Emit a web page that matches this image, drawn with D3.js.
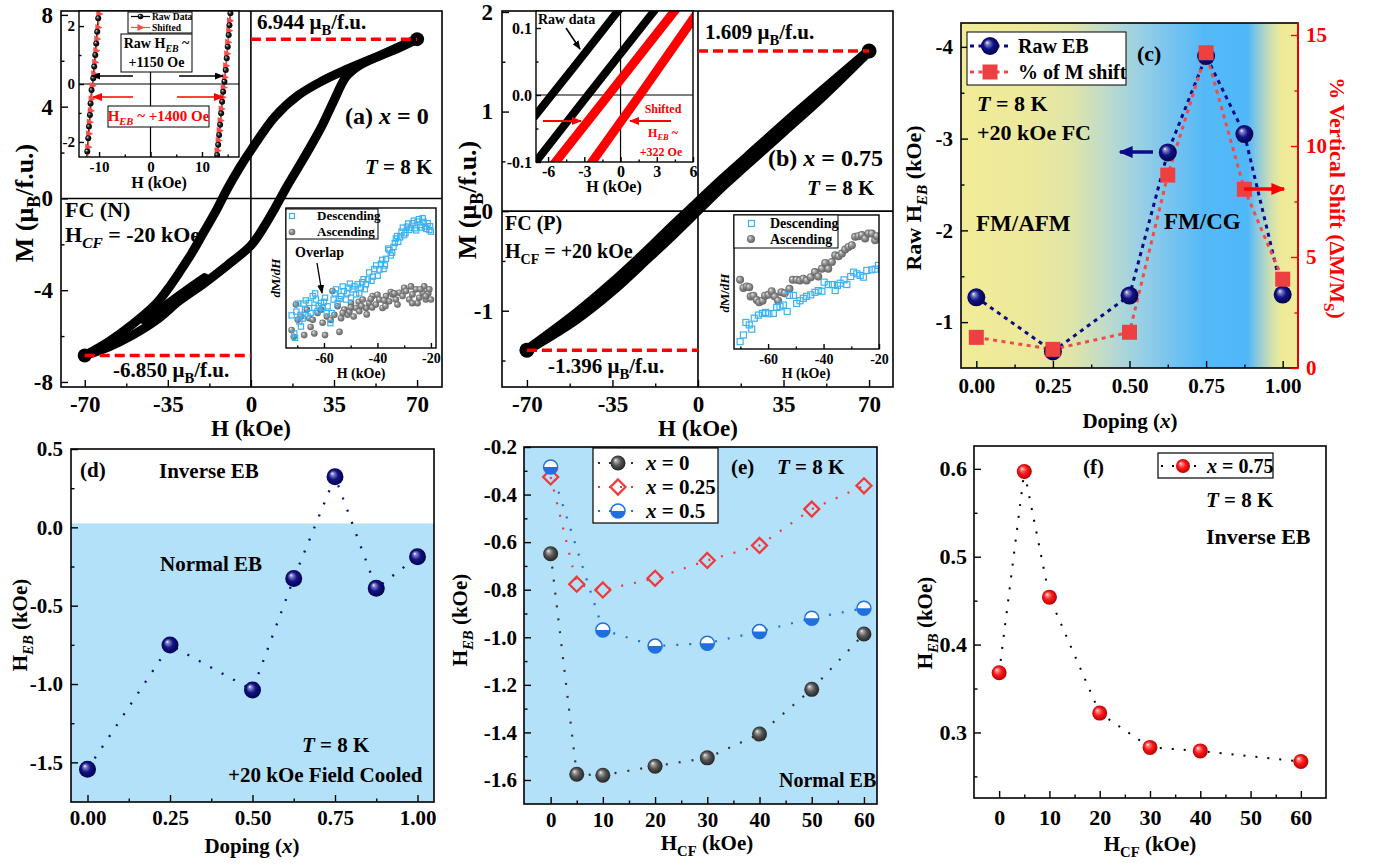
<!DOCTYPE html>
<html>
<head>
<meta charset="utf-8">
<title>Exchange bias panels</title>
<script src="https://cdn.jsdelivr.net/npm/d3@7"></script>
<style>
body { margin: 0; background: #fff; }
svg text { font-family: "Liberation Serif", "Times New Roman", serif; font-weight: bold; }
</style>
</head>
<body>
<script>
(function(){

	//---- (a) x = 0 hysteresis loop, H (kOe) / M (muB per f.u.)
	var aDescH = [70, 60, 50, 40, 30, 20, 10, 0, -5, -10, -15, -20, -25, -30, -35, -40, -50, -60, -70];
	var aDescM = [6.94, 6.45, 6.05, 5.61, 5.12, 4.5, 3.55, 2.1, 1.3, 0.4, -0.6, -1.5, -2.4, -3.2, -3.95, -4.6, -5.5, -6.25, -6.85];
	var aAscH = [-70, -60, -50, -40, -30, -20, -10, 0, 5, 10, 15, 20, 25, 30, 35, 40, 45, 50, 60, 70];
	var aAscM = [-6.85, -6.48, -5.97, -5.32, -4.45, -3.72, -2.92, -2.05, -1.32, -0.45, 0.49, 1.36, 2.24, 3.18, 4.27, 5.29, 5.75, 6.02, 6.5, 6.94];
	var aVirH = [-19.5, -25, -30, -35, -40, -45];
	var aVirM = [-3.45, -3.85, -4.22, -4.6, -4.98, -5.3];
	var aTop = [70, 6.944], aBot = [-70, -6.850];

	//---- (a) upper inset, zoom of the coercive branches
	var aInRawLH = [-9.95, -10.16, -10.36, -10.55, -10.74, -10.94, -11.13, -11.46, -11.65, -11.78, -11.97, -12.1, -12.29, -12.45];
	var aInRawLM = [2.75, 2.27, 1.8, 1.4, 1.0, 0.6, 0.2, -0.21, -0.67, -1.07, -1.47, -1.87, -2.33, -2.75];
	var aInRawRH = [15.75, 15.53, 15.34, 15.2, 15.01, 14.82, 14.62, 14.37, 14.12, 13.92, 13.73, 13.53, 13.34, 13.15, 12.95, 12.85];
	var aInRawRM = [2.75, 2.44, 2.03, 1.69, 1.29, 0.89, 0.48, 0.08, -0.27, -0.61, -1.01, -1.41, -1.76, -2.1, -2.45, -2.75];
	var aInShLH = [-9.85, -9.95, -10.15, -10.35, -10.55, -10.75, -10.95, -11.25, -11.45, -11.6, -11.8, -11.95, -12.1, -12.3];
	var aInShLM = [2.75, 2.42, 1.95, 1.55, 1.15, 0.75, 0.35, -0.06, -0.52, -0.92, -1.32, -1.72, -2.18, -2.75];
	var aInShRH = [15.85, 15.62, 15.45, 15.29, 15.1, 14.9, 14.7, 14.45, 14.22, 14.02, 13.83, 13.63, 13.44, 13.25, 13.05, 12.95];
	var aInShRM = [2.75, 2.59, 2.18, 1.84, 1.44, 1.04, 0.63, 0.23, -0.12, -0.46, -0.86, -1.26, -1.61, -1.95, -2.3, -2.75];

	//---- (a) lower inset, dM/dH (arb. units)
	var aDesH = [-72.1,-71.1,-70.8,-69.8,-68.8,-68.6,-67.6,-67.1,-66.1,-65.5,-64.2,-63.6,-63.0,-62.4,-61.1,-60.5,-59.6,-58.6,-57.6,-57.1,-56.4,-55.5,-54.9,-53.6,-52.6,-51.8,-50.9,-49.9,-49.3,-48.0,-47.4,-46.2,-45.2,-44.3,-43.1,-42.2,-41.2,-39.9,-38.7,-37.7,-36.8,-36.0,-35.0,-34.0,-33.1,-32.2,-31.0,-30.0,-29.0,-28.1,-26.9,-26.0,-25.0,-24.0,-23.1,-22.2,-21.2,-20.6,-20.0,
		-70.3,-69.2,-67.9,-66.8,-65.0,-63.3,-62.0,-60.0,-59.0,-56.0,-54.2,-53.0,-51.3,-50.3,-48.6,-46.8,-45.7,-44.7,-43.6,-41.7,-40.5,-39.2,-38.2,-37.2,-35.5,-34.5,-33.5,-32.6,-31.5,-30.5,-29.5,-28.5,-27.5,-26.4,-25.5,-24.5,-23.5,-22.7,-21.7,-20.3];
	var aDesV = [2.33,1.04,0.73,3.17,2.37,1.53,3.17,2.74,2.25,3.22,3.71,2.86,3.46,2.62,3.22,2.86,3.59,2.98,1.77,2.5,3.46,4.19,3.22,3.71,4.07,3.46,4.31,3.59,4.19,3.83,4.55,4.31,4.92,4.55,5.4,4.8,5.64,5.16,6.01,5.64,6.37,7.1,6.61,7.22,7.82,7.58,8.31,8.06,8.67,8.43,8.91,8.55,9.03,8.79,9.27,8.67,8.91,8.43,8.31,
		2.6,1.9,2.1,3.4,2.5,3.9,3.0,3.3,2.5,3.9,3.5,4.4,3.9,4.6,4.4,3.9,4.7,4.2,4.9,5.1,5.9,5.6,6.3,5.9,7.0,6.8,7.5,8.0,7.9,8.6,8.2,8.9,8.6,9.1,8.4,9.2,8.6,9.0,8.5,8.7];
	var aAsH = [-72.1,-71.3,-70.5,-69.8,-68.6,-67.4,-66.4,-65.5,-64.2,-63.6,-62.4,-61.1,-59.6,-58.9,-56.8,-56.1,-54.9,-54.2,-53.6,-52.4,-51.2,-50.5,-49.9,-48.9,-48.0,-47.0,-46.8,-45.5,-44.3,-44.0,-43.1,-42.0,-41.8,-40.6,-40.0,-39.3,-38.1,-37.0,-36.8,-35.6,-35.0,-34.3,-33.1,-32.5,-31.8,-30.6,-30.0,-29.3,-28.1,-27.5,-26.9,-25.6,-25.0,-24.4,-23.1,-22.5,-21.9,-21.0,-20.6,-20.0,
		-27.0,-24.0,-22.0,-33.7,-37.5,-42.5,-46.0,-50.0,-53.0,-57.5,-60.5,-65.0];
	var aAsV = [1.29,0.8,3.1,2.01,2.25,0.92,2.74,2.13,2.01,1.04,2.5,2.74,0.92,2.25,4.07,2.37,2.98,1.15,2.13,2.74,2.37,2.6,3.22,2.25,2.86,3.3,2.62,3.46,2.86,2.4,3.22,2.9,3.71,3.1,3.8,3.46,2.86,3.0,3.71,3.34,4.0,3.83,3.46,3.1,3.95,3.71,4.3,4.07,3.46,4.4,3.83,4.19,3.2,3.59,3.95,4.4,3.46,3.9,4.19,3.46,
		3.2,4.2,3.7,3.9,3.4,3.5,3.0,2.9,2.5,2.0,1.8,1.5];

	//---- (b) x = 0.75 loop
	var bDescH = [70, 50, 35, 20, 10, 0, -10, -20, -35, -50, -70];
	var bDescM = [1.609, 1.19, 0.87, 0.54, 0.32, 0.09, -0.14, -0.38, -0.72, -1.03, -1.396];
	var bAscH = [-70, -50, -35, -20, -10, 0, 10, 20, 35, 50, 70];
	var bAscM = [-1.396, -1.09, -0.8, -0.46, -0.23, 0.01, 0.25, 0.47, 0.8, 1.13, 1.609];
	var bTop = [70, 1.609], bBot = [-70, -1.396];

	//---- (b) upper inset, raw and shifted branches near the origin
	var bRaw1H = [-7.2, -3.5, 0.2], bRaw1M = [-0.034, 0.05, 0.135];
	var bRaw2H = [-7.2, -2.7, 3.2], bRaw2M = [-0.104, 0.0, 0.135];
	var bSh1H = [-5.6, -1.0, 4.8], bSh1M = [-0.105, 0.0, 0.133];
	var bSh2H = [-2.6, 1.6, 6.3], bSh2M = [-0.106, 0.0, 0.121];

	//---- (b) lower inset, dM/dH
	var bDesH = [-70.1,-68.9,-68.0,-66.8,-65.9,-65.0,-63.5,-62.1,-60.9,-59.7,-58.1,-56.9,-55.7,-54.5,-53.1,-52.3,-50.9,-49.7,-48.5,-47.3,-46.1,-44.6,-43.1,-41.9,-40.6,-39.8,-38.3,-36.8,-35.8,-35.0,-34.0,-32.6,-31.6,-30.2,-29.2,-28.0,-26.8,-25.6,-24.4,-22.6,-21.4,-20.2];
	var bDesV = [0.55,1.05,1.98,1.8,1.48,2.3,2.53,2.66,2.73,2.63,2.66,3.1,3.16,3.28,2.8,4.0,4.0,3.4,3.6,3.78,3.93,4.04,4.23,4.36,4.31,4.99,4.81,4.81,4.36,4.74,4.91,5.16,4.81,5.41,5.74,5.61,5.49,5.36,5.86,5.91,5.96,6.24];
	var bAsH = [-70.1,-68.9,-67.7,-66.8,-66.3,-65.3,-64.1,-63.2,-62.0,-61.1,-59.9,-58.7,-57.6,-56.4,-55.2,-54.0,-52.3,-51.1,-49.7,-48.5,-47.3,-46.1,-44.6,-43.1,-41.9,-40.6,-39.4,-38.3,-37.0,-35.8,-34.6,-33.4,-32.2,-31.0,-29.8,-28.6,-27.4,-26.2,-25.0,-23.8,-22.6,-21.4,-20.8];
	var bAsV = [5.16,4.56,4.66,4.61,3.91,3.98,3.66,3.48,3.61,3.98,4.04,4.31,3.91,3.61,4.23,4.16,4.49,5.16,5.16,5.11,5.24,5.11,5.36,5.74,5.41,5.99,6.42,5.99,6.49,6.99,6.92,7.12,7.42,7.62,7.74,8.37,8.42,8.5,8.25,8.62,8.62,8.12,8.42];

	//---- (c) raw EB and vertical shift vs doping
	var cDoping = [0, 0.25, 0.5, 0.625, 0.75, 0.875, 1.0];
	var cRawEB = [-1.27, -0.68, -1.29, -2.85, -3.90, -3.05, -1.30];
	var cShift = [1.38, 0.84, 1.61, 8.69, 14.2, 8.05, 4.0];

	//---- (d) HEB vs doping
	var dDoping = [0, 0.25, 0.5, 0.625, 0.75, 0.875, 1.0];
	var dHeb = [-1.544, -0.751, -1.038, -0.326, 0.323, -0.389, -0.188];

	//---- (e) HEB vs cooling field
	var eHcf = [0, 5, 10, 20, 30, 40, 50, 60];
	var eX0 = [-0.649, -1.576, -1.58, -1.542, -1.507, -1.407, -1.219, -0.986];
	var eX25 = [-0.326, -0.777, -0.801, -0.752, -0.677, -0.614, -0.461, -0.363];
	var eHcf5 = [0, 10, 20, 30, 40, 50, 60];
	var eX5 = [-0.284, -0.969, -1.037, -1.025, -0.976, -0.92, -0.878];

	//---- (f) HEB vs cooling field, x = 0.75
	var fHcf = [0, 5, 10, 20, 30, 40, 60];
	var fHeb = [0.368, 0.597, 0.454, 0.322, 0.283, 0.279, 0.267];

	//---- tick values
	var abXt = [-70, -35, 0, 35, 70], abXm = [-52.5, -17.5, 17.5, 52.5];
	var aYt = [-8, -4, 0, 4, 8], aYm = [-6, -2, 2, 6];
	var bYt = [-1, 0, 1, 2], bYm = [-1.5, -0.5, 0.5, 1.5];
	var aiXt = [-10, 0, 10], aiXm = [-5, 5, 15], aiYt = [-2, 0, 2], aiYm = [-1, 1];
	var biXt = [-6, -3, 0, 3, 6], biXm = [-4.5, -1.5, 1.5, 4.5], biYt = [-0.1, 0, 0.1], biYm = [-0.05, 0.05];
	var dmXt = [-60, -40, -20], dmXm = [-70, -50, -30];
	var dopXt = [0, 0.25, 0.5, 0.75, 1.0], dopXm = [0.125, 0.375, 0.625, 0.875];
	var cYt = [-1, -2, -3, -4], cYm = [-1.5, -2.5, -3.5];
	var cRt = [0, 5, 10, 15], cRm = [2.5, 7.5, 12.5];
	var dYt = [-1.5, -1.0, -0.5, 0.0, 0.5], dYm = [-1.25, -0.75, -0.25, 0.25];
	var hcfXt = [0, 10, 20, 30, 40, 50, 60], hcfXm = [5, 15, 25, 35, 45, 55];
	var eYt = [-1.6, -1.4, -1.2, -1.0, -0.8, -0.6, -0.4, -0.2], eYm = [-1.5, -1.3, -1.1, -0.9, -0.7, -0.5, -0.3];
	var fYt = [0.3, 0.4, 0.5, 0.6], fYm = [0.25, 0.35, 0.45, 0.55];

	var LBLUE = "#b4e1fa", RED = "#ff0000";

	var svg = d3.select("body").append("svg").attr("width", 1375).attr("height", 865);
	var defs = svg.append("defs");

	//sphere shading
	function sphereGrad(id, mid, dark){
		var g = defs.append("radialGradient").attr("id", id)
			.attr("cx", "50%").attr("cy", "50%").attr("r", "55%").attr("fx", "33%").attr("fy", "30%");
		g.append("stop").attr("offset", "0%").attr("stop-color", "#fff");
		g.append("stop").attr("offset", "16%").attr("stop-color", d3.interpolateRgb("#fff", mid)(0.5));
		g.append("stop").attr("offset", "50%").attr("stop-color", mid);
		g.append("stop").attr("offset", "100%").attr("stop-color", dark);
	}
	sphereGrad("gNavy", "#12128a", "#000040");
	sphereGrad("gGray", "#565656", "#1c1c1c");
	sphereGrad("gRed", "#ff1818", "#a80000");
	sphereGrad("gGrayS", "#8c8c8c", "#5a5a5a");
	sphereGrad("gBlack", "#1a1a1a", "#000");

	//background of (c)
	var lg = defs.append("linearGradient").attr("id", "gBgC").attr("x1", 0).attr("x2", 1).attr("y1", 0).attr("y2", 0);
	[[0, "#f2ec98"], [0.2, "#ede99c"], [0.33, "#dfe5a8"], [0.42, "#c2dcc8"], [0.52, "#9ed1e2"], [0.62, "#78c4ef"],
	 [0.72, "#55b9f7"], [0.85, "#4fb8f9"], [0.88, "#8cc9df"], [0.92, "#d0e0b0"], [0.95, "#eeea9a"], [1, "#f1ec98"]]
		.forEach(function(s){ lg.append("stop").attr("offset", s[0]).attr("stop-color", s[1]); });

	function arrowMarker(id, color, w, h){
		defs.append("marker").attr("id", id).attr("viewBox", "0 0 10 10").attr("refX", 9).attr("refY", 5)
			.attr("markerUnits", "userSpaceOnUse").attr("markerWidth", w).attr("markerHeight", h)
			.attr("orient", "auto").attr("preserveAspectRatio", "none")
			.append("path").attr("d", "M0,0L10,5L0,10Z").attr("fill", color);
	}
	arrowMarker("arBlk", "#000", 9, 7);
	arrowMarker("arRed", RED, 10, 8);
	arrowMarker("arNavy", "#0a0a8a", 14, 12);
	arrowMarker("arRedBig", RED, 14, 12);

	function clip(id, x, y){
		defs.append("clipPath").attr("id", id).append("rect")
			.attr("x", x.range()[0]).attr("y", y.range()[1])
			.attr("width", x.range()[1] - x.range()[0]).attr("height", y.range()[0] - y.range()[1]);
		return "url(#" + id + ")";
	}

	function tidy(sel, fs, color){
		sel.select(".domain").remove();
		sel.attr("font-size", fs).attr("color", color || "#000");
		sel.selectAll("line").attr("stroke-width", 1.4);
	}

	//box and inward ticks
	function frame(g, x, y, o){
		var tl = o.tl || 7, fs = o.fs || 20;
		var xl = x.range()[0], xr = x.range()[1], yb = y.range()[0], yt = y.range()[1];
		if (o.xt) g.append("g").attr("transform", "translate(0," + yb + ")")
			.call(d3.axisBottom(x).tickValues(o.xt).tickSize(-tl).tickPadding(o.xpad || 8).tickFormat(o.xfmt || String))
			.call(tidy, fs);
		if (o.xm) g.append("g").attr("transform", "translate(0," + yb + ")")
			.call(d3.axisBottom(x).tickValues(o.xm).tickSize(-tl / 2).tickFormat(""))
			.call(tidy, fs);
		if (o.yt) g.append("g").attr("transform", "translate(" + xl + ",0)")
			.call(d3.axisLeft(y).tickValues(o.yt).tickSize(-tl).tickPadding(o.ypad || 8).tickFormat(o.yfmt || String))
			.call(tidy, fs);
		if (o.ym) g.append("g").attr("transform", "translate(" + xl + ",0)")
			.call(d3.axisLeft(y).tickValues(o.ym).tickSize(-tl / 2).tickFormat(""))
			.call(tidy, fs);
		g.append("rect").attr("x", xl).attr("y", yt).attr("width", xr - xl).attr("height", yb - yt)
			.attr("fill", "none").attr("stroke", "#000").attr("stroke-width", o.bw || 1.6);
	}

	//text with subscripts / italics: parts = ["H", ["EB","sub,i"], " (kOe)"]
	function rich(g, x, y, parts, o){
		o = o || {};
		var fs = o.fs || 20;
		var t = g.append("text").attr("x", x).attr("y", y).attr("font-size", fs)
			.attr("text-anchor", o.anchor || "start").attr("fill", o.fill || "#000");
		if (o.rotate) t.attr("transform", "rotate(" + o.rotate + "," + x + "," + y + ")");
		var shift = 0;
		parts.forEach(function(p){
			var s = typeof p === "string" ? p : p[0];
			var st = typeof p === "string" ? [] : p[1].split(",");
			var isSub = st.indexOf("sub") >= 0, isIt = st.indexOf("i") >= 0;
			var want = isSub ? fs * 0.28 : 0;
			var ts = t.append("tspan").text(s).attr("dy", want - shift);
			shift = want;
			if (isSub) ts.attr("font-size", fs * 0.7);
			if (isIt) ts.attr("font-style", "italic");
		});
		return t;
	}
	function it(s){ return [s, "i"]; }
	function sub(s){ return [s, "sub"]; }
	function subi(s){ return [s, "sub,i"]; }

	function hline(g, x1, x2, y, color, w, dash){
		return g.append("line").attr("x1", x1).attr("x2", x2).attr("y1", y).attr("y2", y)
			.attr("stroke", color).attr("stroke-width", w).attr("stroke-dasharray", dash || null);
	}
	function vline(g, x, y1, y2, color, w){
		return g.append("line").attr("x1", x).attr("x2", x).attr("y1", y1).attr("y2", y2)
			.attr("stroke", color).attr("stroke-width", w);
	}
	function arrow(g, x1, y1, x2, y2, color, w, mk){
		return g.append("line").attr("x1", x1).attr("y1", y1).attr("x2", x2).attr("y2", y2)
			.attr("stroke", color).attr("stroke-width", w).attr("marker-end", "url(#" + mk + ")");
	}

	function spheres(g, pts, x, y, r, grad){
		g.selectAll(null).data(pts).join("circle")
			.attr("cx", function(d){ return x(d[0]); }).attr("cy", function(d){ return y(d[1]); })
			.attr("r", r).attr("fill", "url(#" + grad + ")");
	}

	//========================= (a) =========================
	var ax = d3.scaleLinear().domain([-80, 80.5]).range([61, 442]);
	var ay = d3.scaleLinear().domain([-8.22, 8.17]).range([387, 11]);
	var gA = svg.append("g");
	vline(gA, ax(0), ay.range()[0], ay.range()[1], "#000", 1.6);
	hline(gA, ax.range()[0], ax.range()[1], ay(0), "#000", 1.6);

	var lineA = d3.line().x(function(d){ return ax(d[0]); }).y(function(d){ return ay(d[1]); }).curve(d3.curveCatmullRom);
	var gAd = gA.append("g").attr("clip-path", clip("clA", ax, ay));
	[[aDescH, aDescM], [aAscH, aAscM], [aVirH, aVirM]].forEach(function(s){
		gAd.append("path").datum(d3.zip(s[0], s[1])).attr("d", lineA)
			.attr("fill", "none").attr("stroke", "#000").attr("stroke-width", 9).attr("stroke-linecap", "round");
	});
	gAd.selectAll(null).data([aTop, aBot]).join("circle")
		.attr("cx", function(d){ return ax(d[0]); }).attr("cy", function(d){ return ay(d[1]); }).attr("r", 7);
	hline(gA, ax(0), ax(aTop[0]), ay(aTop[1]), RED, 3.5, "10,5");
	hline(gA, ax(aBot[0]), ax(0), ay(aBot[1]), RED, 3.5, "10,5");

	frame(gA, ax, ay, {xt: abXt, xm: abXm, yt: aYt, ym: aYm, fs: 23, xpad: 9, ypad: 8});

	rich(gA, 257, 29, ["6.944 \u03bc", sub("B"), "/f.u."], {fs: 21});
	rich(gA, 113, 377, ["-6.850 \u03bc", sub("B"), "/f.u."], {fs: 21});
	rich(gA, 345, 124, ["(a)  ", it("x"), " = 0"], {fs: 24});
	rich(gA, 365, 174, [it("T"), " = 8 K"], {fs: 21});
	rich(gA, 65, 217, ["FC (N)"], {fs: 22});
	rich(gA, 65, 242, ["H", subi("CF"), " = -20 kOe"], {fs: 22});
	rich(gA, 33, 203, ["M (\u03bc", sub("B"), "/f.u.)"], {fs: 26, rotate: -90, anchor: "middle"});
	rich(gA, 251, 436, ["H (kOe)"], {fs: 23, anchor: "middle"});

	//---- (a) inset 1
	var aix = d3.scaleLinear().domain([-13.9, 17.2]).range([79, 239]);
	var aiy = d3.scaleLinear().domain([-2.52, 2.52]).range([157, 11]);
	var gAi = svg.append("g");
	gAi.append("rect").attr("x", 79).attr("y", 11).attr("width", 160).attr("height", 146).attr("fill", "#fff");
	vline(gAi, aix(0), aiy.range()[0], aiy.range()[1], "#000", 1.2);
	hline(gAi, aix.range()[0], aix.range()[1], aiy(0), "#000", 1.2);
	var lineAi = d3.line().x(function(d){ return aix(d[0]); }).y(function(d){ return aiy(d[1]); });
	var gAid = gAi.append("g").attr("clip-path", clip("clAi", aix, aiy));
	[[aInRawLH, aInRawLM], [aInRawRH, aInRawRM]].forEach(function(s){
		gAid.append("path").datum(d3.zip(s[0], s[1])).attr("d", lineAi).attr("fill", "none").attr("stroke", "#000").attr("stroke-width", 1.3);
	});
	[[aInShLH, aInShLM], [aInShRH, aInShRM]].forEach(function(s){
		var pts = d3.zip(s[0], s[1]);
		gAid.append("path").datum(pts).attr("d", lineAi).attr("fill", "none").attr("stroke", "#ff4a4a").attr("stroke-width", 1.3);
		gAid.selectAll(null).data(pts).join("path").attr("d", "M-3,-3.6L4.2,0L-3,3.6Z").attr("fill", "#ff4a4a")
			.attr("transform", function(d){ return "translate(" + aix(d[0]) + "," + aiy(d[1]) + ")"; });
	});
	[[aInRawLH, aInRawLM], [aInRawRH, aInRawRM]].forEach(function(s){
		spheres(gAid, d3.zip(s[0], s[1]), aix, aiy, 3, "gBlack");
	});
	frame(gAi, aix, aiy, {xt: aiXt, xm: aiXm, yt: aiYt, ym: aiYm, fs: 15, xpad: 4, ypad: 4, tl: 5, bw: 1.4});
	rich(gAi, 159, 188, ["H (kOe)"], {fs: 16, anchor: "middle"});
	//legend
	gAi.append("rect").attr("x", 128).attr("y", 12).attr("width", 64).attr("height", 21).attr("fill", "#fff").attr("stroke", "#000").attr("stroke-width", 1);
	hline(gAi, 131, 150, 16.5, "#000", 1.2);
	gAi.append("circle").attr("cx", 140.5).attr("cy", 16.5).attr("r", 2.8).attr("fill", "url(#gBlack)");
	hline(gAi, 131, 150, 27.5, "#ff4a4a", 1.2);
	gAi.append("path").attr("d", "M-3,-3.6L4.2,0L-3,3.6Z").attr("fill", "#ff4a4a").attr("transform", "translate(140.5,27.5)");
	rich(gAi, 152, 19.5, ["Raw Data"], {fs: 9.5});
	rich(gAi, 152, 30.5, ["Shifted"], {fs: 9.5});
	//raw HEB box
	gAi.append("rect").attr("x", 121).attr("y", 34).attr("width", 71).attr("height", 38).attr("fill", "#fff").attr("stroke", "#000").attr("stroke-width", 1);
	rich(gAi, 156.5, 48, ["Raw H", subi("EB"), " ~"], {fs: 14, anchor: "middle"});
	rich(gAi, 156.5, 67, ["+1150 Oe"], {fs: 14, anchor: "middle"});
	arrow(gAi, 133, 76, 92, 76, "#000", 1.5, "arBlk");
	arrow(gAi, 179, 76, 223, 76, "#000", 1.5, "arBlk");
	arrow(gAi, 133, 97, 93, 97, RED, 1.5, "arRed");
	arrow(gAi, 177, 97, 223, 97, RED, 1.5, "arRed");
	gAi.append("rect").attr("x", 108).attr("y", 106).attr("width", 101).attr("height", 21).attr("fill", "#fff").attr("stroke", "#000").attr("stroke-width", 1);
	rich(gAi, 158.5, 121, ["H", subi("EB"), " ~ +1400 Oe"], {fs: 15, anchor: "middle", fill: RED});

	//---- (a) inset 2
	var ajx = d3.scaleLinear().domain([-74.2, -18.1]).range([286, 436]);
	var ajy = d3.scaleLinear().domain([0, 10]).range([348, 208]);
	var gAj = svg.append("g");
	gAj.append("rect").attr("x", 286).attr("y", 208).attr("width", 150).attr("height", 140).attr("fill", "#fff");
	var gAjd = gAj.append("g").attr("clip-path", clip("clAj", ajx, ajy));
	spheres(gAjd, d3.zip(aAsH, aAsV), ajx, ajy, 3.3, "gGrayS");
	gAjd.selectAll(null).data(d3.zip(aDesH, aDesV)).join("rect")
		.attr("x", function(d){ return ajx(d[0]) - 2.6; }).attr("y", function(d){ return ajy(d[1]) - 2.6; })
		.attr("width", 5.2).attr("height", 5.2).attr("fill", "none").attr("stroke", "#3cb2f2").attr("stroke-width", 1.2);
	frame(gAj, ajx, ajy, {xt: dmXt, xm: dmXm, fs: 14, xpad: 5, tl: 5, bw: 1.4});
	rich(gAj, 361, 378, ["H (kOe)"], {fs: 14, anchor: "middle"});
	rich(gAj, 280, 278, [it("d"), "M/", it("dH")], {fs: 13, rotate: -90, anchor: "middle"});
	gAj.append("rect").attr("x", 286).attr("y", 209).attr("width", 92).attr("height", 30).attr("fill", "#fff").attr("stroke", "#000").attr("stroke-width", 1);
	gAj.append("rect").attr("x", 289.5).attr("y", 213.5).attr("width", 5).attr("height", 5).attr("fill", "none").attr("stroke", "#3cb2f2").attr("stroke-width", 1.2);
	gAj.append("circle").attr("cx", 292).attr("cy", 232).attr("r", 3.3).attr("fill", "url(#gGrayS)");
	rich(gAj, 317, 220, ["Descending"], {fs: 13});
	rich(gAj, 317, 236, ["Ascending"], {fs: 13});
	rich(gAj, 295, 257, ["Overlap"], {fs: 14});
	arrow(gAj, 317, 263, 322, 293, "#000", 1.3, "arBlk");

	//========================= (b) =========================
	var bx = d3.scaleLinear().domain([-80.2, 79.8]).range([502, 893]);
	var by = d3.scaleLinear().domain([-1.766, 2.01]).range([387, 11]);
	var gB = svg.append("g");
	vline(gB, bx(0), by.range()[0], by.range()[1], "#000", 1.6);
	hline(gB, bx.range()[0], bx.range()[1], by(0), "#000", 1.6);
	var lineB = d3.line().x(function(d){ return bx(d[0]); }).y(function(d){ return by(d[1]); }).curve(d3.curveCatmullRom);
	var gBd = gB.append("g").attr("clip-path", clip("clB", bx, by));
	[[bDescH, bDescM], [bAscH, bAscM]].forEach(function(s){
		gBd.append("path").datum(d3.zip(s[0], s[1])).attr("d", lineB)
			.attr("fill", "none").attr("stroke", "#000").attr("stroke-width", 10).attr("stroke-linecap", "round");
	});
	gBd.selectAll(null).data([bTop, bBot]).join("circle")
		.attr("cx", function(d){ return bx(d[0]); }).attr("cy", function(d){ return by(d[1]); }).attr("r", 7.5);
	hline(gB, bx(0), bx(bTop[0]), by(bTop[1]), RED, 3.5, "10,5");
	hline(gB, bx(bBot[0]), bx(0), by(bBot[1]), RED, 3.5, "10,5");
	frame(gB, bx, by, {xt: abXt, xm: abXm, yt: bYt, ym: bYm, fs: 23, xpad: 9, ypad: 9});

	rich(gB, 705, 39, ["1.609 \u03bc", sub("B"), "/f.u."], {fs: 21});
	rich(gB, 548, 373, ["-1.396 \u03bc", sub("B"), "/f.u."], {fs: 21});
	rich(gB, 768, 166, ["(b)  ", it("x"), " = 0.75"], {fs: 24});
	rich(gB, 807, 195, [it("T"), " = 8 K"], {fs: 21});
	rich(gB, 505, 230, ["FC (P)"], {fs: 20});
	rich(gB, 505, 258, ["H", sub("CF"), " = +20 kOe"], {fs: 20});
	rich(gB, 476, 200, ["M (\u03bc", sub("B"), "/f.u.)"], {fs: 26, rotate: -90, anchor: "middle"});
	rich(gB, 698, 436, ["H (kOe)"], {fs: 23, anchor: "middle"});

	//---- (b) inset 1
	var bix = d3.scaleLinear().domain([-7, 6]).range([536, 693]);
	var biy = d3.scaleLinear().domain([-0.1, 0.1254]).range([162, 11]);
	var gBi = svg.append("g");
	gBi.append("rect").attr("x", 536).attr("y", 11).attr("width", 157).attr("height", 151).attr("fill", "#fff");
	vline(gBi, bix(0), biy.range()[0], biy.range()[1], "#000", 1.2);
	hline(gBi, bix.range()[0], bix.range()[1], biy(0), "#000", 1.2);
	var lineBi = d3.line().x(function(d){ return bix(d[0]); }).y(function(d){ return biy(d[1]); });
	var gBid = gBi.append("g").attr("clip-path", clip("clBi", bix, biy));
	[[bRaw1H, bRaw1M, "#000", 8], [bRaw2H, bRaw2M, "#000", 8], [bSh1H, bSh1M, RED, 9], [bSh2H, bSh2M, RED, 9]].forEach(function(s){
		gBid.append("path").datum(d3.zip(s[0], s[1])).attr("d", lineBi)
			.attr("fill", "none").attr("stroke", s[2]).attr("stroke-width", s[3]);
	});
	frame(gBi, bix, biy, {xt: biXt, xm: biXm, yt: biYt, ym: biYm, fs: 16, xpad: 4, ypad: 4, tl: 5, bw: 1.4,
		yfmt: function(d){ return d.toFixed(1); }});
	rich(gBi, 614, 192, ["H (kOe)"], {fs: 16, anchor: "middle"});
	rich(gBi, 538, 24, ["Raw data"], {fs: 14});
	arrow(gBi, 566, 28, 580, 49, "#000", 1.5, "arBlk");
	arrow(gBi, 543, 121, 581, 121, RED, 1.8, "arRed");
	arrow(gBi, 671, 121, 630, 121, RED, 1.8, "arRed");
	rich(gBi, 663, 113, ["Shifted"], {fs: 12, anchor: "middle", fill: RED});
	rich(gBi, 663, 137, ["H", subi("EB"), " ~"], {fs: 12, anchor: "middle", fill: RED});
	rich(gBi, 661, 156, ["+322 Oe"], {fs: 12, anchor: "middle", fill: RED});

	//---- (b) inset 2
	var bjx = d3.scaleLinear().domain([-72.3, -20]).range([734, 879]);
	var bjy = d3.scaleLinear().domain([0, 10]).range([349, 215]);
	var gBj = svg.append("g");
	gBj.append("rect").attr("x", 734).attr("y", 215).attr("width", 145).attr("height", 134).attr("fill", "#fff");
	var gBjd = gBj.append("g").attr("clip-path", clip("clBj", bjx, bjy));
	spheres(gBjd, d3.zip(bAsH, bAsV), bjx, bjy, 4, "gGrayS");
	gBjd.selectAll(null).data(d3.zip(bDesH, bDesV)).join("rect")
		.attr("x", function(d){ return bjx(d[0]) - 3; }).attr("y", function(d){ return bjy(d[1]) - 3; })
		.attr("width", 6).attr("height", 6).attr("fill", "none").attr("stroke", "#3cb2f2").attr("stroke-width", 1.2);
	frame(gBj, bjx, bjy, {xt: dmXt, xm: dmXm, fs: 14, xpad: 5, tl: 5, bw: 1.4});
	rich(gBj, 806, 378, ["H (kOe)"], {fs: 14, anchor: "middle"});
	rich(gBj, 729, 293, [it("d"), "M/", it("dH")], {fs: 13, rotate: -90, anchor: "middle"});
	gBj.append("rect").attr("x", 734).attr("y", 215).attr("width", 104).attr("height", 33).attr("fill", "#fff").attr("stroke", "#000").attr("stroke-width", 1);
	gBj.append("rect").attr("x", 748.5).attr("y", 220.5).attr("width", 6).attr("height", 6).attr("fill", "none").attr("stroke", "#3cb2f2").attr("stroke-width", 1.2);
	gBj.append("circle").attr("cx", 751).attr("cy", 239).attr("r", 4).attr("fill", "url(#gGrayS)");
	rich(gBj, 770, 228, ["Descending"], {fs: 14});
	rich(gBj, 770, 244, ["Ascending"], {fs: 14});

	//========================= (c) =========================
	var cx = d3.scaleLinear().domain([-0.05, 1.05]).range([961, 1298]);
	var cyL = d3.scaleLinear().domain([-0.5, -4.26]).range([368, 23]);
	var cyR = d3.scaleLinear().domain([0, 15.54]).range([368, 23]);
	var gC = svg.append("g");
	gC.append("rect").attr("x", 961).attr("y", 23).attr("width", 337).attr("height", 345).attr("fill", "url(#gBgC)");
	var rawPts = d3.zip(cDoping, cRawEB), shPts = d3.zip(cDoping, cShift);
	gC.append("path").datum(rawPts)
		.attr("d", d3.line().x(function(d){ return cx(d[0]); }).y(function(d){ return cyL(d[1]); }))
		.attr("fill", "none").attr("stroke", "#0a0a8a").attr("stroke-width", 3).attr("stroke-dasharray", "4,4.5");
	gC.append("path").datum(shPts)
		.attr("d", d3.line().x(function(d){ return cx(d[0]); }).y(function(d){ return cyR(d[1]); }))
		.attr("fill", "none").attr("stroke", "#f24a4a").attr("stroke-width", 3).attr("stroke-dasharray", "4,4.5");
	spheres(gC, rawPts, cx, cyL, 9, "gNavy");
	gC.selectAll(null).data(shPts).join("rect")
		.attr("x", function(d){ return cx(d[0]) - 7.5; }).attr("y", function(d){ return cyR(d[1]) - 7.5; })
		.attr("width", 15).attr("height", 15).attr("fill", "#ee4040");
	frame(gC, cx, cyL, {xt: dopXt, xm: dopXm, yt: cYt, ym: cYm, fs: 21, xpad: 10, ypad: 8,
		xfmt: function(d){ return d.toFixed(2); }});
	gC.append("g").attr("transform", "translate(1298,0)")
		.call(d3.axisRight(cyR).tickValues(cRt).tickSize(-7).tickPadding(8).tickFormat(String)).call(tidy, 21, RED);
	gC.append("g").attr("transform", "translate(1298,0)")
		.call(d3.axisRight(cyR).tickValues(cRm).tickSize(-3.5).tickFormat("")).call(tidy, 21, RED);
	vline(gC, 1298, 23, 368, RED, 1.6);
	//legend
	gC.append("rect").attr("x", 967).attr("y", 32).attr("width", 159).attr("height", 53).attr("fill", "#fff").attr("stroke", "#000").attr("stroke-width", 1);
	hline(gC, 970, 1011, 46, "#0a0a8a", 3, "4,4.5");
	gC.append("circle").attr("cx", 990).attr("cy", 46).attr("r", 9).attr("fill", "url(#gNavy)");
	hline(gC, 970, 1011, 72, "#f24a4a", 3, "4,4.5");
	gC.append("rect").attr("x", 982.5).attr("y", 64.5).attr("width", 15).attr("height", 15).attr("fill", "#ee4040");
	rich(gC, 1018, 53, ["Raw EB"], {fs: 20});
	rich(gC, 1018, 79, ["% of M shift"], {fs: 20});
	rich(gC, 1137, 61, ["(c)"], {fs: 22});
	rich(gC, 977, 111, [it("T"), " = 8 K"], {fs: 22});
	rich(gC, 977, 140, ["+20 kOe FC"], {fs: 22});
	rich(gC, 976, 231, ["FM/AFM"], {fs: 23});
	rich(gC, 1164, 229, ["FM/CG"], {fs: 23});
	arrow(gC, 1153, 152, 1120, 152, "#0a0a8a", 3.5, "arNavy");
	arrow(gC, 1244, 189, 1284, 189, RED, 3.5, "arRedBig");
	rich(gC, 921, 198, ["Raw H", subi("EB"), " (kOe)"], {fs: 22, rotate: -90, anchor: "middle"});
	rich(gC, 1330, 198, ["% Vertical Shift (\u0394M/M", sub("S"), ")"], {fs: 22, rotate: 90, anchor: "middle", fill: RED});
	rich(gC, 1130, 428, ["Doping (", it("x"), ")"], {fs: 21, anchor: "middle"});

	//========================= (d) =========================
	var dx = d3.scaleLinear().domain([-0.05, 1.05]).range([71, 434]);
	var dy = d3.scaleLinear().domain([-1.753, 0.5]).range([802, 449]);
	var gD = svg.append("g");
	gD.append("rect").attr("x", 71).attr("y", dy(0.025)).attr("width", 363).attr("height", 802 - dy(0.025)).attr("fill", LBLUE);
	var dPts = d3.zip(dDoping, dHeb);
	gD.append("path").datum(dPts)
		.attr("d", d3.line().x(function(d){ return dx(d[0]); }).y(function(d){ return dy(d[1]); }))
		.attr("fill", "none").attr("stroke", "#0a0a8a").attr("stroke-width", 2.3).attr("stroke-dasharray", "2,11");
	spheres(gD, dPts, dx, dy, 8.5, "gNavy");
	frame(gD, dx, dy, {xt: dopXt, xm: dopXm, yt: dYt, ym: dYm, fs: 21, xpad: 8, ypad: 8,
		xfmt: function(d){ return d.toFixed(2); }, yfmt: function(d){ return d.toFixed(1); }});
	rich(gD, 80, 477, ["(d)"], {fs: 21});
	rich(gD, 159, 478, ["Inverse EB"], {fs: 21});
	rich(gD, 160, 571, ["Normal EB"], {fs: 21});
	rich(gD, 302, 752, [it("T"), " = 8 K"], {fs: 21});
	rich(gD, 228, 782, ["+20 kOe Field Cooled"], {fs: 21});
	rich(gD, 27, 625, ["H", subi("EB"), " (kOe)"], {fs: 21, rotate: -90, anchor: "middle"});
	rich(gD, 252, 853, ["Doping (", it("x"), ")"], {fs: 21, anchor: "middle"});

	//========================= (e) =========================
	var ex = d3.scaleLinear().domain([-5.1, 62.5]).range([524, 877]);
	var ey = d3.scaleLinear().domain([-1.701, -0.2]).range([804, 447]);
	var gE = svg.append("g");
	gE.append("rect").attr("x", 524).attr("y", 447).attr("width", 353).attr("height", 357).attr("fill", LBLUE);
	var lineE = d3.line().x(function(d){ return ex(d[0]); }).y(function(d){ return ey(d[1]); });
	var e0 = d3.zip(eHcf, eX0), e25 = d3.zip(eHcf, eX25), e5 = d3.zip(eHcf5, eX5);
	[[e0, "#333"], [e25, "#f03a3a"], [e5, "#1f6fe0"]].forEach(function(s){
		gE.append("path").datum(s[0]).attr("d", lineE).attr("fill", "none").attr("stroke", s[1])
			.attr("stroke-width", 2.2).attr("stroke-dasharray", "2,11");
	});
	function halfDot(sel){
		sel.append("circle").attr("r", 7).attr("fill", "#fff").attr("stroke", "#1f6fe0").attr("stroke-width", 1.5);
		sel.append("path").attr("d", "M-7,0A7,7 0 0 0 7,0Z").attr("fill", "#1f6fe0");
	}
	function diamond(sel){
		sel.append("path").attr("d", "M0,-7.5L7.5,0L0,7.5L-7.5,0Z").attr("fill", "none").attr("stroke", "#f03a3a").attr("stroke-width", 2.3);
	}
	spheres(gE, e0, ex, ey, 7.5, "gGray");
	gE.selectAll(null).data(e25).join("g")
		.attr("transform", function(d){ return "translate(" + ex(d[0]) + "," + ey(d[1]) + ")"; }).call(diamond);
	gE.selectAll(null).data(e5).join("g")
		.attr("transform", function(d){ return "translate(" + ex(d[0]) + "," + ey(d[1]) + ")"; }).call(halfDot);
	frame(gE, ex, ey, {xt: hcfXt, xm: hcfXm, yt: eYt, ym: eYm, fs: 21, xpad: 8, ypad: 7,
		yfmt: function(d){ return d.toFixed(1); }});
	//legend
	gE.append("rect").attr("x", 593).attr("y", 448).attr("width", 125).attr("height", 75).attr("fill", "#fff").attr("stroke", "#000").attr("stroke-width", 1.2);
	[[463, "#333", "0"], [487, "#f03a3a", "0.25"], [511, "#1f6fe0", "0.5"]].forEach(function(r, i){
		hline(gE, 598, 642, r[0], r[1], 2, "2,9");
		var m = gE.append("g").attr("transform", "translate(618," + r[0] + ")");
		if (i === 0) m.append("circle").attr("r", 7.5).attr("fill", "url(#gGray)");
		if (i === 1) m.call(diamond);
		if (i === 2) m.call(halfDot);
		rich(gE, 646, r[0] + 7, [it("x"), " = " + r[2]], {fs: 21});
	});
	rich(gE, 731, 474, ["(e)"], {fs: 21});
	rich(gE, 777, 474, [it("T"), " = 8 K"], {fs: 21});
	rich(gE, 779, 787, ["Normal EB"], {fs: 20});
	rich(gE, 467, 620, ["H", subi("EB"), " (kOe)"], {fs: 21, rotate: -90, anchor: "middle"});
	rich(gE, 707, 850, ["H", sub("CF"), " (kOe)"], {fs: 21, anchor: "middle"});

	//========================= (f) =========================
	var fx = d3.scaleLinear().domain([-5, 65]).range([974, 1326]);
	var fy = d3.scaleLinear().domain([0.2254, 0.626]).range([798, 446]);
	var gF = svg.append("g");
	var fPts = d3.zip(fHcf, fHeb);
	gF.append("path").datum(fPts)
		.attr("d", d3.line().x(function(d){ return fx(d[0]); }).y(function(d){ return fy(d[1]); }))
		.attr("fill", "none").attr("stroke", "#000").attr("stroke-width", 2).attr("stroke-dasharray", "2,10");
	spheres(gF, fPts, fx, fy, 7.5, "gRed");
	frame(gF, fx, fy, {xt: hcfXt, xm: hcfXm, yt: fYt, ym: fYm, fs: 22, xpad: 11, ypad: 7,
		yfmt: function(d){ return d.toFixed(1); }});
	gF.append("rect").attr("x", 1158).attr("y", 453).attr("width", 115).attr("height", 25).attr("fill", "#fff").attr("stroke", "#000").attr("stroke-width", 1.2);
	hline(gF, 1161, 1197, 466, "#000", 2, "2,9");
	gF.append("circle").attr("cx", 1183).attr("cy", 466).attr("r", 7).attr("fill", "url(#gRed)");
	rich(gF, 1207, 473, [it("x"), " = 0.75"], {fs: 20});
	rich(gF, 1083, 474, ["(f)"], {fs: 21});
	rich(gF, 1206, 507, [it("T"), " = 8 K"], {fs: 21});
	rich(gF, 1206, 544, ["Inverse EB"], {fs: 22});
	rich(gF, 932, 623, ["H", subi("EB"), " (kOe)"], {fs: 21, rotate: -90, anchor: "middle"});
	rich(gF, 1150, 851, ["H", sub("CF"), " (kOe)"], {fs: 21, anchor: "middle"});

})();
</script>
</body>
</html>
